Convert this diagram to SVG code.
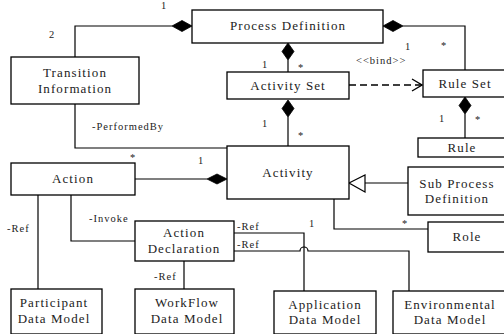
<svg xmlns="http://www.w3.org/2000/svg" width="504" height="334" viewBox="0 0 504 334">
<defs>
<style>
.box{fill:#fff;stroke:#000;stroke-width:1.3}
.t{font-family:"Liberation Serif","Times New Roman",serif;font-weight:normal;font-size:13px;letter-spacing:1.1px;text-anchor:middle;fill:#222}
.s{font-family:"Liberation Serif","Times New Roman",serif;font-size:10.5px;letter-spacing:1px;fill:#222}
.ln{fill:none;stroke:#000;stroke-width:1.2}
.dia{fill:#000;stroke:#000;stroke-width:0.8}
</style>
<marker id="open" markerWidth="12" markerHeight="14" refX="11" refY="7" orient="auto" markerUnits="userSpaceOnUse">
<path d="M1,1 L11,7 L1,13" fill="none" stroke="#000" stroke-width="1.3"/>
</marker>
</defs>
<rect width="504" height="334" fill="#fff"/>
<g id="connectors">
<path class="ln" d="M172,26 H75 V57"/>
<path class="dia" d="M172,26 L182,20.5 L192,26 L182,31.5 Z"/>
<path class="ln" d="M75,104 V148 H227"/>
<path class="ln" d="M288,60 V72"/>
<path class="dia" d="M288,43 L294,51.5 L288,60 L282,51.5 Z"/>
<path class="ln" d="M403,26 H465 V70"/>
<path class="dia" d="M383,26 L393,20.5 L403,26 L393,31.5 Z"/>
<path d="M349,85 H422" fill="none" stroke="#000" stroke-width="1.6" stroke-dasharray="7,4" marker-end="url(#open)"/>
<path class="ln" d="M288,117 V146"/>
<path class="dia" d="M288,100 L294,108.5 L288,117 L282,108.5 Z"/>
<path class="ln" d="M465,114 V138"/>
<path class="dia" d="M465,97 L471,105.5 L465,114 L459,105.5 Z"/>
<path class="ln" d="M135,179 H207"/>
<path class="dia" d="M207,179 L217,174 L227,179 L217,184 Z"/>
<path class="ln" d="M365,183 H408"/>
<path d="M349,183 L365,175 L365,192 Z" fill="#fff" stroke="#000" stroke-width="1.2"/>
<path class="ln" d="M334,199 V229 H428"/>
<path class="ln" d="M38,195 V289"/>
<path class="ln" d="M71,195 V241 H135"/>
<path class="ln" d="M184,261 V289"/>
<path class="ln" d="M234,233 H304 V291"/>
<path class="ln" d="M234,251 H300 A4,4 0 0 1 308,251 H409 V291"/>
</g>
<g id="labels">
<text class="s" x="161" y="9">1</text>
<text class="s" x="49" y="38">2</text>
<text class="s" x="92" y="130">-PerformedBy</text>
<text class="s" x="130" y="161">*</text>
<text class="s" x="198" y="164">1</text>
<text class="s" x="262" y="68">1</text>
<text class="s" x="298" y="71">*</text>
<text class="s" x="262" y="127">1</text>
<text class="s" x="298" y="139">*</text>
<text class="s" x="405" y="50">1</text>
<text class="s" x="441" y="49">*</text>
<text class="s" x="356" y="64">&lt;&lt;bind&gt;&gt;</text>
<text class="s" x="439" y="122">1</text>
<text class="s" x="475" y="123">*</text>
<text class="s" x="402" y="227">*</text>
<text class="s" x="7" y="232">-Ref</text>
<text class="s" x="89" y="222">-Invoke</text>
<text class="s" x="154" y="280">-Ref</text>
<text class="s" x="237" y="230">-Ref</text>
<text class="s" x="237" y="248">-Ref</text>
<text class="s" x="309" y="227">1</text>
</g>
<g id="process-definition"><rect class="box" x="192" y="10" width="191" height="33"/><text class="t" x="288" y="30">Process Definition</text></g>
<g id="transition-information"><rect class="box" x="11" y="57" width="128" height="47"/><text class="t" x="75" y="77">Transition</text><text class="t" x="75" y="93">Information</text></g>
<g id="activity-set"><rect class="box" x="227" y="72" width="122" height="27"/><text class="t" x="288" y="90">Activity Set</text></g>
<g id="rule-set"><rect class="box" x="423" y="70" width="82" height="27"/><text class="t" x="465" y="88">Rule Set</text></g>
<g id="rule"><rect class="box" x="418" y="138" width="87" height="19"/><text class="t" x="462" y="152">Rule</text></g>
<g id="activity"><rect class="box" x="227" y="146" width="122" height="53"/><text class="t" x="288" y="177">Activity</text></g>
<g id="action"><rect class="box" x="11" y="163" width="124" height="32"/><text class="t" x="73" y="183">Action</text></g>
<g id="sub-process-definition"><rect class="box" x="408" y="167" width="97" height="48"/><text class="t" x="457" y="188">Sub Process</text><text class="t" x="457" y="203">Definition</text></g>
<g id="role"><rect class="box" x="428" y="222" width="77" height="30"/><text class="t" x="467" y="241">Role</text></g>
<g id="action-declaration"><rect class="box" x="135" y="221" width="99" height="40"/><text class="t" x="184" y="237">Action</text><text class="t" x="184" y="253">Declaration</text></g>
<g id="participant-data-model"><rect class="box" x="11" y="289" width="91" height="45"/><text class="t" x="54" y="307">Participant</text><text class="t" x="54" y="323">Data Model</text></g>
<g id="workflow-data-model"><rect class="box" x="135" y="289" width="99" height="45"/><text class="t" x="187" y="307">WorkFlow</text><text class="t" x="187" y="323">Data Model</text></g>
<g id="application-data-model"><rect class="box" x="274" y="291" width="102" height="43"/><text class="t" x="325" y="309">Application</text><text class="t" x="325" y="324">Data Model</text></g>
<g id="environmental-data-model"><rect class="box" x="393" y="291" width="112" height="43"/><text class="t" x="450" y="309">Environmental</text><text class="t" x="450" y="324">Data Model</text></g>
</svg>
